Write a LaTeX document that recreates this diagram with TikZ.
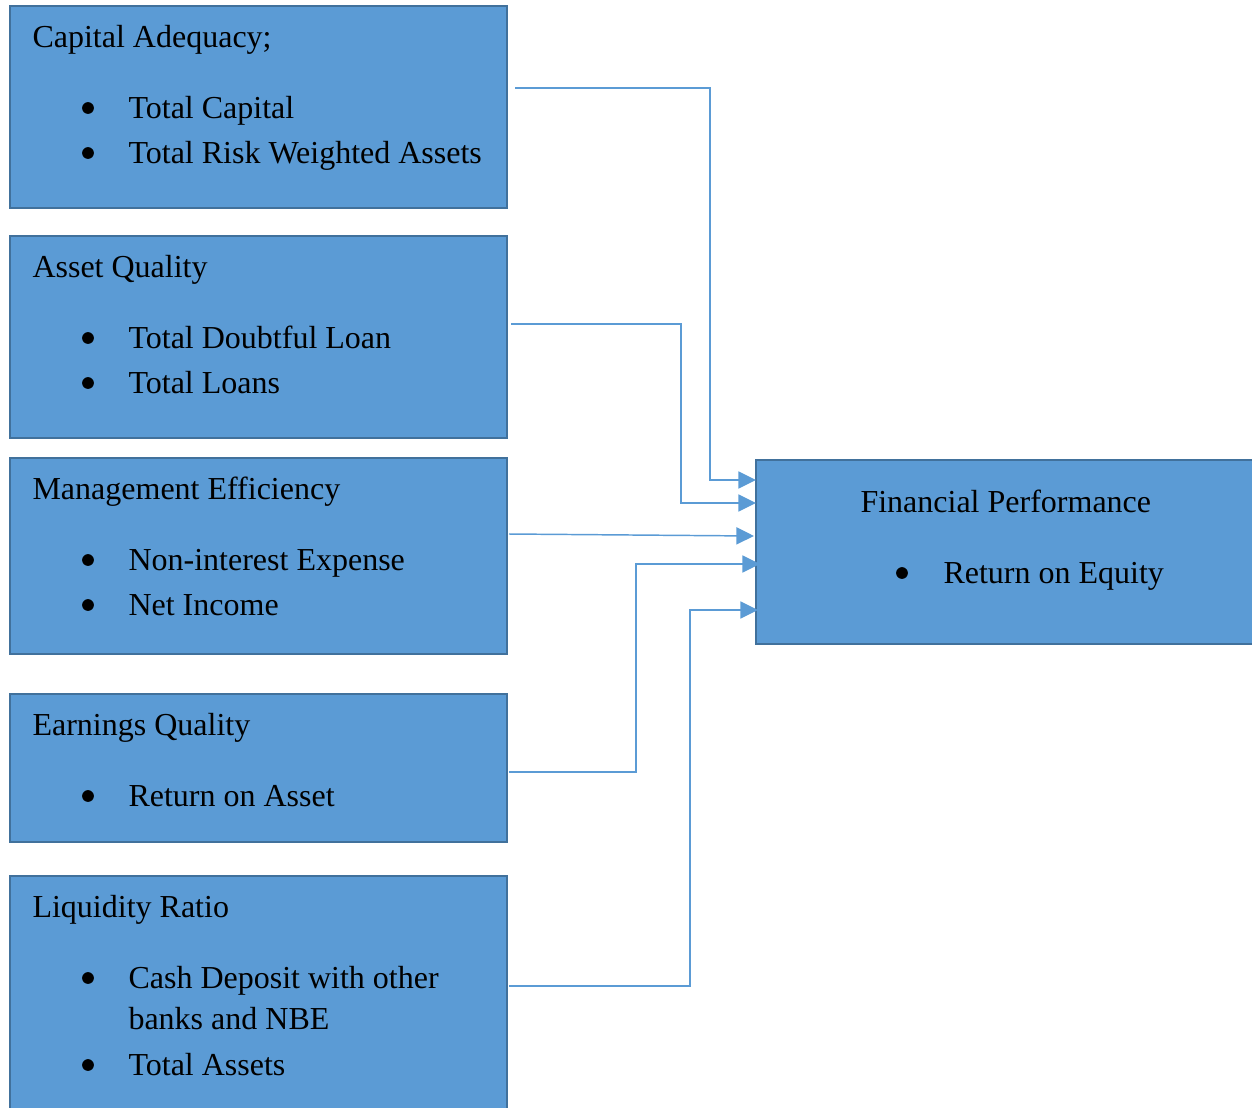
\documentclass[tikz,border=0pt]{standalone}
\usepackage{fontspec}
\setmainfont{Liberation Serif}
\usetikzlibrary{arrows.meta}
\definecolor{boxfill}{HTML}{5B9BD5}
\definecolor{boxline}{HTML}{41719C}
\definecolor{conn}{HTML}{5B9BD5}
\begin{document}
\begin{tikzpicture}[x=0.375pt,y=-0.375pt,
  box/.style={draw=boxline,line width=1pt,fill=boxfill},
  txt/.style={anchor=base west,inner sep=0pt,font=\fontsize{12pt}{14pt}\selectfont},
  bul/.style={circle,fill=black,inner sep=0pt,minimum size=4.4pt},
  link/.style={draw=conn,line width=0.55pt,-{Triangle[length=6.6pt,width=6.4pt]}}]
\useasboundingbox (0,0) rectangle (1252,1108);
% boxes
\path[box] (10,6) rectangle (507,208);
\path[box] (10,236) rectangle (507,438);
\path[box] (10,458) rectangle (507,654);
\path[box] (10,694) rectangle (507,842);
\path[box] (10,876) rectangle (507,1114);
\path[box] (756,460) rectangle (1258,644);
% named connector ends
\coordinate (ca) at (515,88);
\coordinate (aq) at (511,324);
\coordinate (me) at (509,534);
\coordinate (eq) at (509,772);
\coordinate (lr) at (509,986);
\coordinate (fp1) at (756,480);
\coordinate (fp2) at (756,503);
\coordinate (fp3) at (754,536);
\coordinate (fp4) at (760,564);
\coordinate (fp5) at (758,610);
% texts box 1
\node[txt] (t1) at (32,47) {Capital Adequacy;};
\node[bul] (b11) at (88,108) {}; \node[txt] (t11) at (128,118) {Total Capital};
\node[bul] (b12) at (88,153) {}; \node[txt] (t12) at (128,163) {Total Risk Weighted Assets};
% box 2
\node[txt] (t2) at (32,277) {Asset Quality};
\node[bul] (b21) at (88,338) {}; \node[txt] (t21) at (128,348) {Total Doubtful Loan};
\node[bul] (b22) at (88,383) {}; \node[txt] (t22) at (128,393) {Total Loans};
% box 3
\node[txt] (t3) at (32,499) {Management Efficiency};
\node[bul] (b31) at (88,560) {}; \node[txt] (t31) at (128,570) {Non-interest Expense};
\node[bul] (b32) at (88,605) {}; \node[txt] (t32) at (128,615) {Net Income};
% box 4
\node[txt] (t4) at (32,735) {Earnings Quality};
\node[bul] (b41) at (88,796) {}; \node[txt] (t41) at (128,806) {Return on Asset};
% box 5
\node[txt] (t5) at (32,917) {Liquidity Ratio};
\node[bul] (b51) at (88,978) {}; \node[txt] (t51) at (128,988) {Cash Deposit with other};
\node[txt] (t52) at (128,1029) {banks and NBE};
\node[bul] (b53) at (88,1065) {}; \node[txt] (t53) at (128,1075) {Total Assets};
% financial performance
\node[txt] (t6) at (860,512) {Financial Performance};
\node[bul] (b61) at (902,573) {}; \node[txt] (t61) at (943,583) {Return on Equity};
% connectors
\draw[link] (ca) -| (710,480) -- (fp1);
\draw[link] (aq) -| (681,503) -- (fp2);
\draw[link] (me) -- (fp3);
\draw[link] (eq) -| (636,564) -- (fp4);
\draw[link] (lr) -| (690,610) -- (fp5);
\end{tikzpicture}
\end{document}
